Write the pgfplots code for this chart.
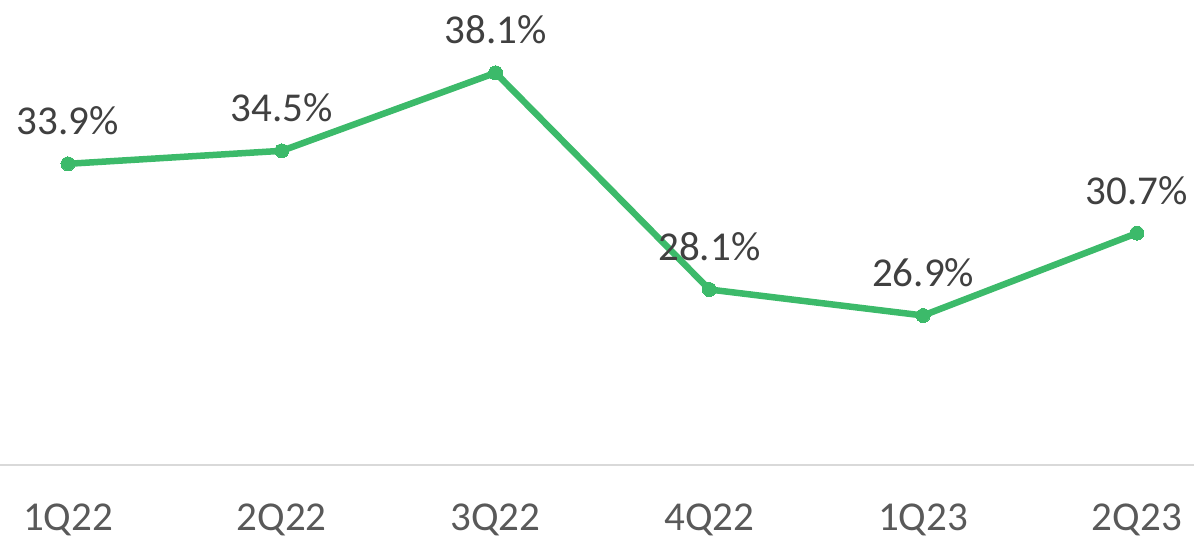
\documentclass[border=0pt]{standalone}
\usepackage{pgfplots}
\pgfplotsset{compat=1.18}
\usepackage{fontspec}
\setmainfont{Carlito}
\definecolor{linegreen}{RGB}{60,186,106}
\definecolor{labelgray}{RGB}{64,64,64}
\definecolor{tickgray}{RGB}{89,89,89}
\definecolor{axisgray}{RGB}{217,217,217}
\begin{document}
\begin{tikzpicture}
\begin{axis}[
  at={(0pt,0pt)}, anchor=south west,
  width=1194pt, height=465pt, scale only axis,
  xmin=-0.318, xmax=5.267,
  ymin=20, ymax=41.46,
  clip=false,
  /pgf/number format/assume math mode=true,
  axis x line=bottom, axis y line=none,
  x axis line style={-, color=axisgray, line width=2pt},
  xtick={0,1,2,3,4,5},
  xticklabels={1Q22,2Q22,3Q22,4Q22,1Q23,2Q23},
  xtick style={draw=none},
  xticklabel style={anchor=base, inner sep=0pt, text depth=0pt, yshift=-63pt, font=\fontsize{41}{49}\selectfont, text=tickgray},
  ytick=\empty,
  nodes near coords={\pgfmathprintnumber[fixed,fixed zerofill,precision=1,assume math mode=true]{\pgfplotspointmeta}\%},
  nodes near coords style={anchor=base, inner sep=0pt, yshift=29pt, font=\fontsize{41}{49}\selectfont, text=labelgray},
  point meta=explicit,
]
\addplot[color=linegreen, line width=6.5pt, mark=*, mark size=7pt, mark options={fill=linegreen, draw=linegreen, line width=0pt}]
  coordinates {(0,33.9)[33.9] (1,34.5)[34.5] (2,38.1)[38.1] (3,28.1)[28.1] (4,26.9)[26.9] (5,30.7)[30.7]};
\end{axis}
\pgfresetboundingbox
\path (0pt,-74pt) rectangle (1194pt,465pt);
\end{tikzpicture}
\end{document}
